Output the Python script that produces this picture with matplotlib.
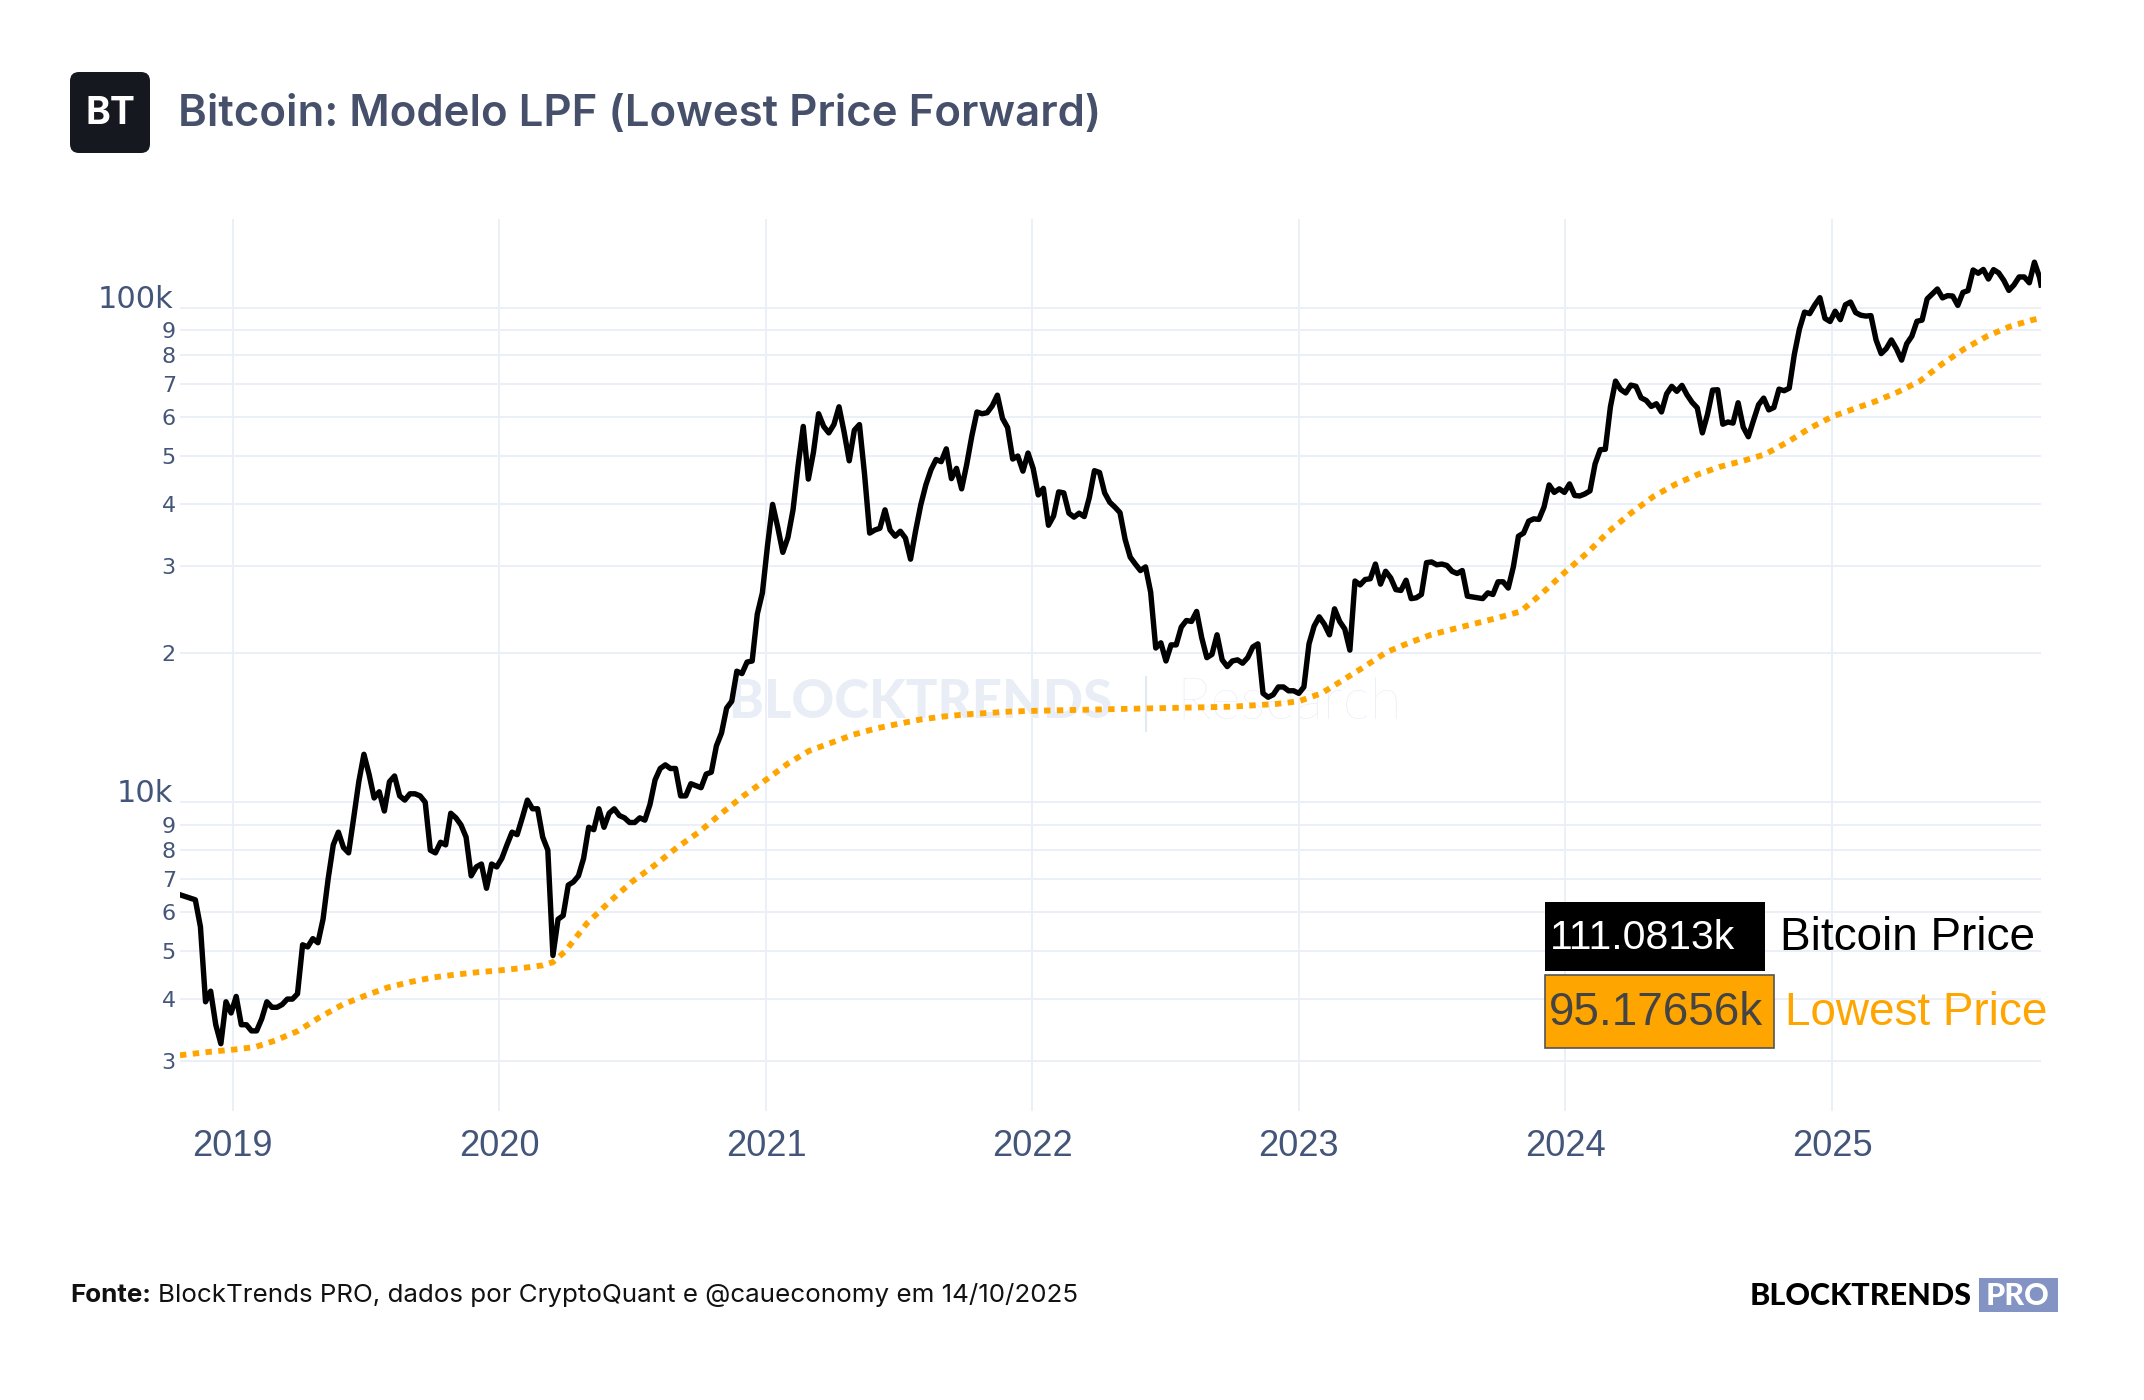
import matplotlib
matplotlib.use('Agg')
import matplotlib.pyplot as plt
from matplotlib.patches import FancyBboxPatch, Rectangle
from matplotlib.transforms import IdentityTransform
from matplotlib.ticker import FixedLocator, NullLocator
import pandas as pd

# Bitcoin price, weekly (Sundays), start 2018-10-21
btc_2018 = [6500, 6450, 6400, 6350, 5600, 3950, 4150, 3550, 3250, 3950, 3750]
btc_2019 = [4050, 3550, 3550, 3450,
            3450, 3650, 3950, 3850,
            3850, 3900, 4000, 4000, 4100,
            5150, 5100, 5300, 5200,
            5800, 7000, 8200, 8700,
            8100, 7900, 9300, 11000, 12500,
            11400, 10200, 10500, 9600,
            11000, 11300, 10300, 10100,
            10400, 10400, 10300, 10000, 8000,
            7900, 8300, 8200, 9500,
            9300, 9000, 8500, 7100,
            7400, 7500, 6700, 7500, 7400]
btc_2020 = [7700, 8200, 8700, 8600,
            9300, 10100, 9700, 9700,
            8500, 8000, 4900, 5800, 5900,
            6800, 6900, 7100, 7700,
            8900, 8800, 9700, 8900, 9500,
            9700, 9400, 9300, 9100,
            9100, 9300, 9200, 9900,
            11100, 11700, 11900, 11700, 11700,
            10300, 10300, 10900, 10800,
            10700, 11400, 11500, 13000,
            13800, 15500, 16000, 18400, 18200,
            19200, 19300, 24000, 26500]
btc_2021 = [33000, 40000, 36000, 32000, 34300,
            39000, 48000, 57500, 45000,
            51000, 61000, 57500, 55800,
            58000, 63000, 56000, 49000,
            56500, 58000, 46000, 35000, 35500,
            35800, 39000, 35500, 34500,
            35300, 34200, 31000, 35400,
            39900, 43800, 47000, 49300, 48800,
            51800, 45100, 47300, 43000,
            48200, 55000, 61500, 61000, 61300,
            63300, 66500, 59700, 57200,
            49400, 50100, 46700, 50800]
btc_2022 = [47300, 41800, 43100, 36300, 37900,
            42400, 42200, 38400, 37700,
            38400, 37800, 41300, 46800,
            46400, 42200, 40400, 39500,
            38500, 34000, 31300, 30300, 29400,
            29900, 26600, 20500, 21000,
            19300, 20800, 20800, 22600, 23300,
            23200, 24300, 21500, 19600,
            19900, 21800, 19400, 18800,
            19300, 19400, 19100, 19600, 20600,
            20900, 16600, 16300, 16500,
            17100, 17100, 16800, 16800]
btc_2023 = [16600, 17100, 20900, 22700, 23700,
            22900, 21800, 24600, 23200,
            22400, 20300, 28000, 27500,
            28200, 28300, 30300, 27600, 29300,
            28400, 26900, 26800, 28100,
            25800, 25900, 26300, 30500,
            30600, 30200, 30300, 30100, 29300,
            29000, 29400, 26100, 26000,
            25900, 25800, 26500, 26300,
            27900, 27900, 27100, 29900, 34500,
            35000, 37000, 37400, 37300,
            39500, 43800, 42300, 43000, 42300]
btc_2024 = [44000, 41700, 41600, 42000,
            42600, 48300, 51600, 51700,
            63000, 71000, 68300, 67200, 69700,
            69300, 65700, 64900, 63100,
            63900, 61500, 66900, 69300,
            67700, 69600, 66600, 64300, 62700,
            55800, 60800, 68100, 68200,
            58100, 58700, 58400, 64200,
            57300, 54800, 59100, 63600, 65600,
            62100, 62800, 68400, 67900,
            68700, 80400, 90500, 97900,
            97200, 101200, 104700, 95100, 93700]
btc_2025 = [98300, 94500, 101300, 102600,
            97700, 96500, 96100, 96300,
            86000, 80700, 82600, 86000, 82500,
            78300, 84500, 87500, 93800,
            94300, 104100, 106500, 109000,
            104600, 105700, 105500, 101000, 107300,
            108200, 119100, 117300, 119400,
            114200, 119300, 117500, 113500, 108300,
            111100, 115300, 115300, 112200,
            123500, 115100]
btc_last_date = '2025-10-14'
btc_last = 111081.3

# Lowest Price Forward curve
lpf_dates = ['2018-10-21', '2018-12-01', '2019-01-01', '2019-02-01', '2019-03-01',
             '2019-04-01', '2019-05-01', '2019-06-01', '2019-07-01', '2019-08-01',
             '2019-09-01', '2019-10-01', '2019-11-01', '2019-12-01', '2020-01-01',
             '2020-02-01', '2020-03-01', '2020-03-15', '2020-04-01', '2020-05-01',
             '2020-06-01', '2020-07-01', '2020-08-01', '2020-09-01', '2020-10-01',
             '2020-11-01', '2020-12-01', '2021-01-01', '2021-02-01', '2021-03-01',
             '2021-04-01', '2021-05-01', '2021-06-01', '2021-07-01', '2021-08-01',
             '2021-09-01', '2021-10-01', '2021-11-01', '2021-12-01', '2022-01-01',
             '2022-04-01', '2022-07-01', '2022-10-01', '2022-12-01', '2023-01-01',
             '2023-02-01', '2023-03-01', '2023-04-01', '2023-05-01', '2023-06-01',
             '2023-07-01', '2023-08-01', '2023-09-01', '2023-10-01', '2023-11-01',
             '2023-12-01', '2024-01-01', '2024-02-01', '2024-03-01', '2024-04-01',
             '2024-05-01', '2024-06-01', '2024-07-01', '2024-08-01', '2024-09-01',
             '2024-10-01', '2024-11-01', '2024-12-01', '2025-01-01', '2025-02-01',
             '2025-03-01', '2025-04-01', '2025-05-01', '2025-06-01', '2025-07-01',
             '2025-08-01', '2025-09-01', '2025-10-01', '2025-10-14']
lpf_values = [3080, 3130, 3160, 3200, 3300,
              3450, 3680, 3900, 4060, 4220,
              4330, 4420, 4480, 4530, 4570,
              4620, 4680, 4750, 5000, 5700,
              6300, 6900, 7450, 8100, 8700,
              9500, 10300, 11100, 12000, 12700,
              13200, 13700, 14100, 14400, 14700,
              14900, 15050, 15150, 15250, 15300,
              15400, 15500, 15600, 15800, 16000,
              16600, 17600, 18800, 20100, 21000,
              21800, 22400, 23000, 23600, 24300,
              26500, 29200, 32000, 35300, 38500,
              41500, 44000, 46000, 47700, 49000,
              50500, 53500, 57000, 60200, 62500,
              64600, 67500, 71000, 77000, 82500,
              87500, 91500, 94300, 95176.56]

years = ['2019', '2020', '2021', '2022', '2023', '2024', '2025']
ytick_values = [3000, 4000, 5000, 6000, 7000, 8000, 9000, 10000,
                20000, 30000, 40000, 50000, 60000, 70000, 80000, 90000, 100000]
ytick_labels = ['3', '4', '5', '6', '7', '8', '9', '10k',
                '2', '3', '4', '5', '6', '7', '8', '9', '100k']

btc_values = btc_2018 + btc_2019 + btc_2020 + btc_2021 + btc_2022 + btc_2023 + btc_2024 + btc_2025
btc_dates = list(pd.date_range('2018-10-21', periods=len(btc_values), freq='7D'))
btc_dates.append(pd.Timestamp(btc_last_date))
btc_values.append(btc_last)
lpf_dt = pd.to_datetime(lpf_dates)

W, H = 2144, 1400
grid_c = '#ebf0f8'
tick_c = '#44557a'

fig = plt.figure(figsize=(W / 100, H / 100), dpi=100)
fig.patch.set_facecolor('white')

def fx(x):
    return x / W

def fy(y):
    return 1 - y / H

ax = fig.add_axes([fx(180), fy(1111), fx(2041) - fx(180), fy(219) - fy(1111)])
ax.set_facecolor('white')
for s in ax.spines.values():
    s.set_visible(False)

ax.plot(btc_dates, btc_values, color='black', lw=3.9, zorder=4, solid_joinstyle='round')
ax.plot(lpf_dt, lpf_values, color='#ffa500', lw=4.2, dashes=(1.1, 1.1), zorder=3)

ax.set_yscale('log')
ax.set_ylim(2376, 151000)
ax.set_xlim(btc_dates[0], btc_dates[-1])

# digit labels go on the ticks, decade labels (10k, 100k) sit a bit higher
ax.yaxis.set_major_locator(FixedLocator(ytick_values))
ax.yaxis.set_minor_locator(NullLocator())
ax.set_yticklabels(['' if t.endswith('k') else t for t in ytick_labels],
                   fontsize=16, color=tick_c, family='DejaVu Sans')
for v, t in zip(ytick_values, ytick_labels):
    if t.endswith('k'):
        ax.annotate(t, xy=(0, v), xycoords=('axes fraction', 'data'), xytext=(-5, 6),
                    textcoords='offset points', ha='right', va='center', fontsize=22,
                    color=tick_c, family='DejaVu Sans', annotation_clip=False)

ax.set_xticks([pd.Timestamp(y + '-01-01') for y in years])
ax.set_xticklabels(years, fontsize=26, color=tick_c, family='Liberation Sans')
ax.tick_params(axis='both', length=0)
ax.tick_params(axis='y', pad=3)
ax.tick_params(axis='x', pad=13)
ax.grid(True, color=grid_c, lw=1.4, zorder=0)
ax.set_axisbelow(True)

# watermark
fig.text(fx(1112), fy(703), 'BLOCKTRENDS', fontsize=38, fontweight='black',
         family='Lato', color='#e9eef6', ha='right', va='center', zorder=1)
fig.add_artist(plt.Line2D([fx(1146), fx(1146)], [fy(731), fy(677)], transform=fig.transFigure,
                          color='#e3e9f2', lw=1.5, zorder=1))
fig.text(fx(1176), fy(703), 'Research', fontsize=42, fontweight='light',
         family='Lato', color='#e6ebf3', ha='left', va='center', zorder=1)
ax.set_zorder(2)
ax.patch.set_alpha(0)

# value boxes
fig.patches.append(Rectangle((1545, H - 971), 220, 69, transform=IdentityTransform(),
                             facecolor='black', edgecolor='none', zorder=5))
fig.patches.append(Rectangle((1545, H - 1048), 229, 73, transform=IdentityTransform(),
                             facecolor='#ffa500', edgecolor='#555555', lw=1.2, zorder=5))
fig.text(fx(1550), fy(938), '111.0813k', fontsize=29.5, family='Liberation Sans', color='white',
         ha='left', va='center', zorder=6)
fig.text(fx(1780), fy(938), 'Bitcoin Price', fontsize=33, family='Liberation Sans', color='black',
         ha='left', va='center')
fig.text(fx(1549), fy(1013), '95.17656k', fontsize=33, family='Liberation Sans', color='#444444',
         ha='left', va='center', zorder=6)
fig.text(fx(1785), fy(1013), 'Lowest Price', fontsize=33, family='Liberation Sans', color='#ffa500',
         ha='left', va='center')

# header
logo = FancyBboxPatch((70, H - 153), 80, 81, boxstyle='round,pad=0,rounding_size=9',
                      transform=IdentityTransform(), facecolor='#15181f', edgecolor='none')
fig.patches.append(logo)
fig.text(fx(110), fy(114), 'BT', fontsize=27, fontweight='bold', family='Inter', color='white',
         ha='center', va='center')
fig.text(fx(178), fy(115), 'Bitcoin: Modelo LPF (Lowest Price Forward)', fontsize=31.5,
         fontweight='semibold', family='Inter', color='#46506b', ha='left', va='center')

# footer
renderer = fig.canvas.get_renderer()
t1 = fig.text(fx(70), fy(1295), 'Fonte:', fontsize=18.7, fontweight='bold', family='Inter',
              color='#111111', ha='left', va='center')
bb = t1.get_window_extent(renderer)
fig.text((bb.x1 + 7) / W, fy(1295), 'BlockTrends PRO, dados por CryptoQuant e @caueconomy em 14/10/2025',
         fontsize=18.7, family='Inter', color='#111111', ha='left', va='center')

fig.text(fx(1972), fy(1296), 'BLOCKTRENDS', fontsize=22, fontweight='black', family='Lato',
         color='black', ha='right', va='center')
pro = Rectangle((1979, H - 1312), 79, 34, transform=IdentityTransform(),
                facecolor='#8293c4', edgecolor='none')
fig.patches.append(pro)
fig.text(fx(2018), fy(1296), 'PRO', fontsize=22, fontweight='black', family='Lato',
         color='white', ha='center', va='center')

fig.savefig('out.png', dpi=100, facecolor='white')
